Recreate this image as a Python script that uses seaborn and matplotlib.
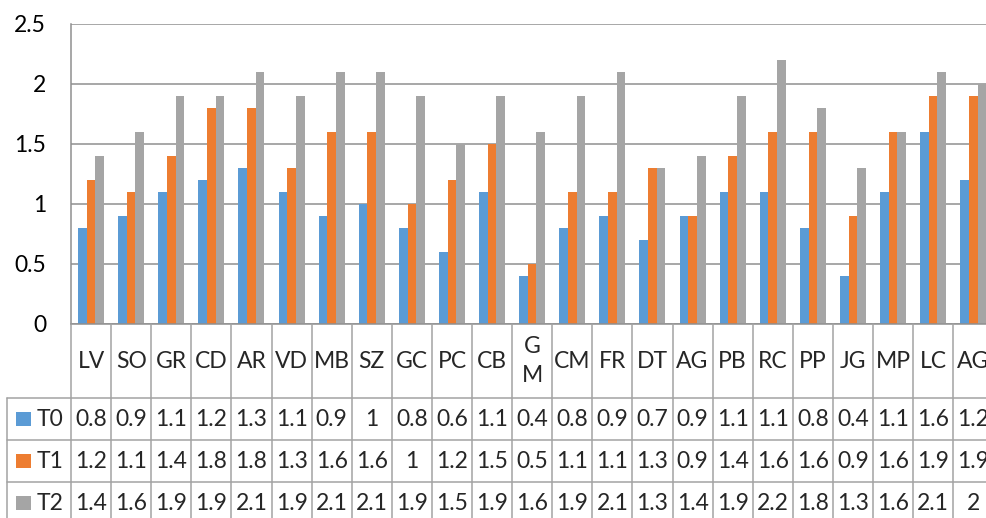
import numpy as np
import pandas as pd
import seaborn as sns
import matplotlib.pyplot as plt
from matplotlib.patches import Rectangle

# ---- data -------------------------------------------------------------
categories = ["LV", "SO", "GR", "CD", "AR", "VD", "MB", "SZ", "GC", "PC", "CB", "GM",
              "CM", "FR", "DT", "AG", "PB", "RC", "PP", "JG", "MP", "LC", "AG"]
header_labels = ["LV", "SO", "GR", "CD", "AR", "VD", "MB", "SZ", "GC", "PC", "CB", "G\nM",
                 "CM", "FR", "DT", "AG", "PB", "RC", "PP", "JG", "MP", "LC", "AG"]
series = ["T0", "T1", "T2"]
t0 = [0.8, 0.9, 1.1, 1.2, 1.3, 1.1, 0.9, 1.0, 0.8, 0.6, 1.1, 0.4,
      0.8, 0.9, 0.7, 0.9, 1.1, 1.1, 0.8, 0.4, 1.1, 1.6, 1.2]
t1 = [1.2, 1.1, 1.4, 1.8, 1.8, 1.3, 1.6, 1.6, 1.0, 1.2, 1.5, 0.5,
      1.1, 1.1, 1.3, 0.9, 1.4, 1.6, 1.6, 0.9, 1.6, 1.9, 1.9]
t2 = [1.4, 1.6, 1.9, 1.9, 2.1, 1.9, 2.1, 2.1, 1.9, 1.5, 1.9, 1.6,
      1.9, 2.1, 1.3, 1.4, 1.9, 2.2, 1.8, 1.3, 1.6, 2.1, 2.0]
y_ticks = [0, 0.5, 1, 1.5, 2, 2.5]
y_tick_labels = ["0", "0.5", "1", "1.5", "2", "2.5"]

colors = ["#5B9BD5", "#ED7D31", "#A5A5A5"]
values = [t0, t1, t2]

# long-form frame; position index keeps the two "AG" columns apart
n = len(categories)
df = pd.DataFrame({
    "pos": np.tile(np.arange(n), len(series)),
    "series": np.repeat(series, n),
    "value": np.concatenate(values),
})

sns.set_theme(style="white")
plt.rcParams["font.family"] = ["Lato", "DejaVu Sans"]

# ---- layout (pixels) --------------------------------------------------
W, H = 986, 518
cell = 40.1
left_px = 71
plot_top, plot_bot = 23.5, 324
header_h, row_h = 74, 42
table_h = header_h + row_h * len(series)
grid_col = "#8f8f8f"
table_col = "#a3a3a3"
fs = 16.5

fig = plt.figure(figsize=(W / 100, H / 100), dpi=100)
ax = fig.add_axes([left_px / W, (H - plot_bot) / H, n * cell / W, (plot_bot - plot_top) / H])

sns.barplot(data=df, x="pos", y="value", hue="series", palette=colors,
            hue_order=series, width=0.65, saturation=1, linewidth=0,
            legend=False, ax=ax)

ax.set_xlim(-0.5, n - 0.5)
ax.set_ylim(0, 2.5)
ax.set_yticks(y_ticks)
ax.set_yticklabels(y_tick_labels, fontsize=fs, color="#000000")
ax.tick_params(axis="y", length=0, pad=18)
ax.set_xticks([])
ax.set_xlabel("")
ax.set_ylabel("")
ax.yaxis.grid(True, color=grid_col, linewidth=1.1)
ax.set_axisbelow(True)
for side in ["top", "right"]:
    ax.spines[side].set_visible(False)
for side in ["left", "bottom"]:
    ax.spines[side].set_color(grid_col)
    ax.spines[side].set_linewidth(1.1)

# ---- data table below the plot ---------------------------------------
tab = fig.add_axes([left_px / W, (H - plot_bot - table_h) / H, n * cell / W, table_h / H])
tab.set_xlim(-0.5, n - 0.5)
tab.set_ylim(table_h, 0)
tab.axis("off")

x_left = -0.5 - (left_px - 7) / cell
row_edges = [header_h + row_h * k for k in range(len(series) + 1)]

for i in range(n + 1):
    tab.plot([i - 0.5, i - 0.5], [0, table_h], color=table_col, lw=1.1, clip_on=False)
tab.plot([x_left, x_left], [header_h, table_h], color=table_col, lw=1.1, clip_on=False)
for y in row_edges:
    tab.plot([x_left, n - 0.5], [y, y], color=table_col, lw=1.1, clip_on=False)

for i, lab in enumerate(header_labels):
    tab.text(i, header_h / 2, lab, ha="center", va="center", fontsize=fs,
             linespacing=1.5, clip_on=False)

for k, (name, vals, col) in enumerate(zip(series, values, colors)):
    yc = row_edges[k] + row_h / 2
    sq = 14.5 / cell
    tab.add_patch(Rectangle((x_left + 9 / cell, yc - 7.3), sq, 14.6,
                            facecolor=col, edgecolor="none", clip_on=False))
    tab.text(x_left + 30 / cell, yc, name, ha="left", va="center", fontsize=fs,
             clip_on=False)
    for i, v in enumerate(vals):
        tab.text(i, yc, f"{v:g}", ha="center", va="center", fontsize=fs,
                 clip_on=False)

fig.savefig("out.png", dpi=100)
